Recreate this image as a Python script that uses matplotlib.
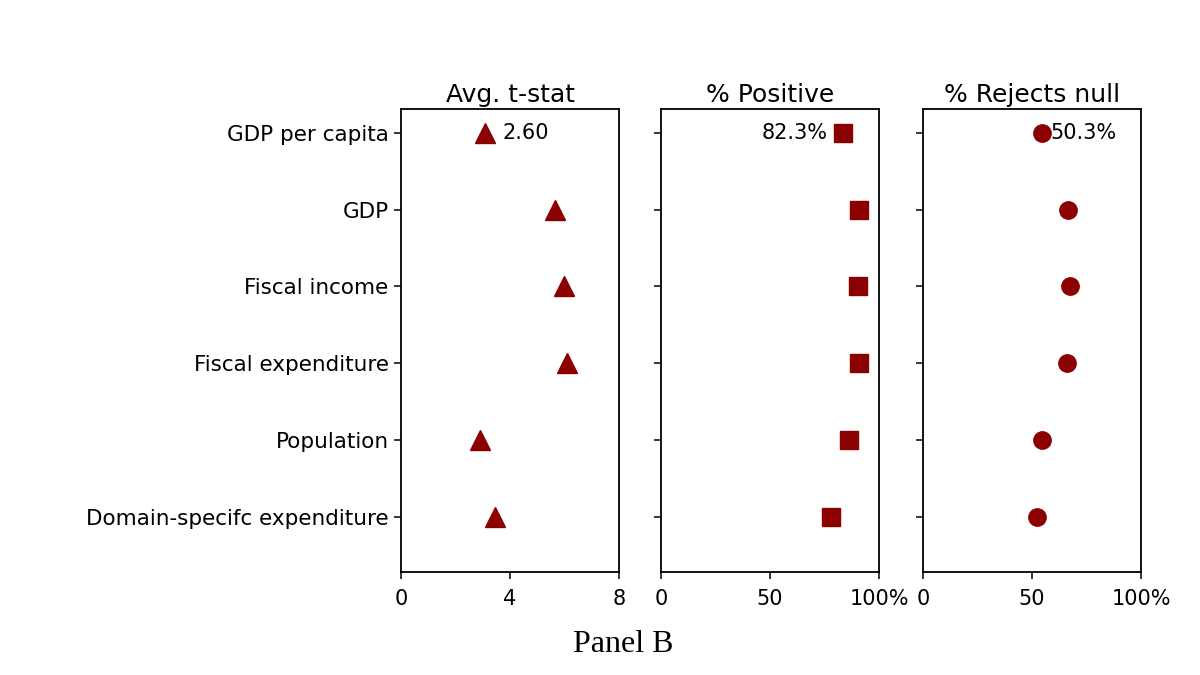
import matplotlib
matplotlib.use("Agg")
import matplotlib.pyplot as plt

categories = ["GDP per capita", "GDP", "Fiscal income", "Fiscal expenditure",
              "Population", "Domain-specifc expenditure"]
avg_tstat = [3.1, 5.65, 5.98, 6.09, 2.9, 3.45]
pct_positive = [83.6, 90.9, 90.4, 90.9, 86.3, 78.1]
pct_rejects = [54.8, 66.7, 67.6, 66.2, 54.8, 52.1]

titles = ["Avg. t-stat", "% Positive", "% Rejects null"]
labels = ["2.60", "82.3%", "50.3%"]
series = [avg_tstat, pct_positive, pct_rejects]
markers = ["^", "s", "o"]
xlims = [(0, 8), (0, 100), (0, 100)]
xticks = [[0, 4, 8], [0, 50, 100], [0, 50, 100]]
xticklabels = [["0", "4", "8"], ["0", "50", "100%"], ["0", "50", "100%"]]

color = "#8b0000"
ypos = list(range(len(categories)))

fig = plt.figure(figsize=(12, 6.75), dpi=100)
lefts = [401, 661, 923]
width = 218
bottom, top = 572, 109
axes = []
for i in range(3):
    ax = fig.add_axes([lefts[i] / 1200, 1 - bottom / 675, width / 1200, (bottom - top) / 675])
    axes.append(ax)
    ax.plot(series[i], ypos, linestyle="none", marker=markers[i], color=color,
            markersize=14 if i == 0 else 12.5)
    ax.set_xlim(*xlims[i])
    ax.set_ylim(5.72, -0.31)
    ax.set_xticks(xticks[i])
    ax.set_xticklabels(xticklabels[i], fontsize=15)
    ax.set_yticks(ypos)
    if i == 0:
        ax.set_yticklabels(categories, fontsize=15.5)
    else:
        ax.set_yticklabels([])
    ax.set_title(titles[i], fontsize=18, pad=5)
    ax.tick_params(length=5, width=1.1, pad=4)
    ax.tick_params(axis="x", pad=7)
    for s in ax.spines.values():
        s.set_linewidth(1.3)

axes[0].annotate(labels[0], (avg_tstat[0], 0), xytext=(12, 0), textcoords="offset points",
                 va="center", ha="left", fontsize=15)
axes[1].annotate(labels[1], (pct_positive[0], 0), xytext=(-11, 0), textcoords="offset points",
                 va="center", ha="right", fontsize=15)
axes[2].annotate(labels[2], (pct_rejects[0], 0), xytext=(6, 0), textcoords="offset points",
                 va="center", ha="left", fontsize=15)

fig.text(623 / 1200, 1 - 645 / 675, "Panel B", ha="center", va="center",
         fontsize=23, family="Liberation Serif")

fig.savefig("out.png", dpi=100)
